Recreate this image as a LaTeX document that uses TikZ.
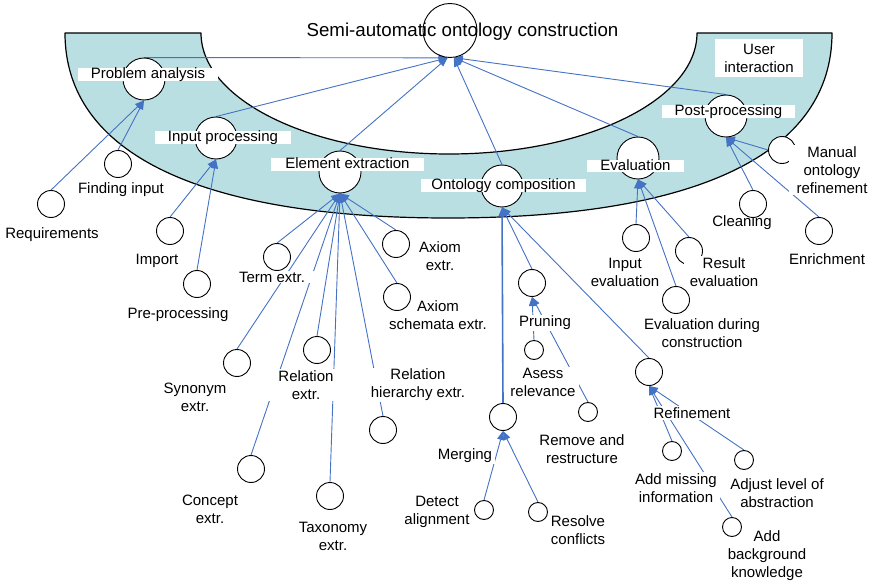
\documentclass[tikz,border=0pt]{standalone}
\usepackage{fontspec}
\setmainfont{Liberation Sans}
\usetikzlibrary{arrows.meta}

\definecolor{bandfill}{RGB}{186,223,227}
\definecolor{linkblue}{RGB}{68,114,196}

\pgfdeclarelayer{front}
\pgfsetlayers{main,front}

\begin{document}
\begin{tikzpicture}[x=1pt,y=-1pt,
  every node/.style={font=\fontsize{15}{18}\selectfont},
  goalcircle/.style={circle, draw=black, line width=0.9pt, minimum size=54pt, inner sep=0},
  stage/.style={circle, draw=black, fill=white, line width=0.9pt, minimum size=42pt, inner sep=0},
  task/.style={circle, draw=black, fill=white, line width=0.9pt, minimum size=27pt, inner sep=0},
  subtask/.style={circle, draw=black, fill=white, line width=0.9pt, minimum size=19pt, inner sep=0},
  tag/.style={fill=white, align=center, inner xsep=3pt, inner ysep=1pt},
  widetag/.style={tag, inner xsep=10pt},
  banner/.style={fill=white, inner sep=0, text height=10.7pt, text depth=1.8pt},
  flow/.style={draw=linkblue, line width=0.9pt, -{Triangle[length=9pt,width=7pt]}},
]
\useasboundingbox (0,0) rectangle (871,583);

% curved band holding the main stages
\draw[fill=bandfill, line width=1.2pt, line join=round]
  (65,33) .. controls (65,153) and (199,218) .. (448,218)
          .. controls (698,218) and (832,153) .. (832,33)
  -- (697,33) .. controls (697,100) and (586,154) .. (449,154)
              .. controls (312,154) and (201,100) .. (201,33)
  -- cycle;

\begin{pgfonlayer}{front}
% goal
\node[goalcircle] (goal) at (450,30.5) {};

% main stages
\node[stage] (pa) at (144,79) {};
\node[stage] (ip) at (216,138) {};
\node[stage] (ee) at (340,172) {};
\node[stage] (oc) at (502,186) {};
\node[stage] (ev) at (638,158) {};
\node[stage] (pp) at (726,116) {};

% tasks
\node[task] (req) at (51,204) {};
\node[task] (find) at (118,164) {};
\node[task] (imp) at (170,231) {};
\node[task] (pre) at (197,284) {};
\node[task] (term) at (277,257) {};
\node[task] (ax) at (396,244) {};
\node[task] (axs) at (397,297) {};
\node[task] (syn) at (237,363) {};
\node[task] (rel) at (317,350) {};
\node[task] (relh) at (383,430) {};
\node[task] (con) at (251,469) {};
\node[task] (tax) at (330,496) {};
\node[task] (prun) at (532,283) {};
\node[task] (merg) at (503,417) {};
\node[task] (refi) at (649,372) {};
\node[task] (inev) at (636,238) {};
\node[task] (resev) at (689,251) {};
\node[task] (durev) at (676,300) {};
\node[task] (mor) at (782,150) {};
\node[task] (clean) at (753,204) {};
\node[task] (enr) at (819,231) {};

% sub-tasks
\node[subtask] (asess) at (534,350) {};
\node[subtask] (remove) at (588,412) {};
\node[subtask] (detect) at (484,510) {};
\node[subtask] (resolve) at (538,512) {};
\node[subtask] (addmiss) at (672,451) {};
\node[subtask] (adjust) at (744,460) {};
\node[subtask] (addbg) at (732,527) {};

% stage banners
\node[banner, minimum width=140pt] (paL) at (148,74.5) {Problem analysis};
\node[banner, minimum width=136pt] (ipL) at (223,137.5) {Input processing};
\node[banner, minimum width=153pt] (eeL) at (347.5,164.5) {Element extraction};
\node[banner, minimum width=165pt] (ocL) at (503.5,185.5) {Ontology composition};
\node[banner, minimum width=97pt] (evL) at (635.5,166) {Evaluation};
\node[banner, minimum width=133pt] (ppL) at (728.5,111.5) {Post-processing};
\node[fill=white, minimum width=88pt, minimum height=38pt, inner sep=0, align=center] (uiL) at (759,58) {User\\interaction};

% labels lying over the edge of their circles
\node[tag, inner xsep=6pt] (axL) at (440,256) {Axiom\\extr.};
\node[tag, inner xsep=6pt] (resevL) at (724,272) {Result\\evaluation};
\node[tag, inner xsep=8pt] (morL) at (832,170) {Manual\\ontology\\refinement};

% goal title
\node[font=\fontsize{18.7}{22}\selectfont] (goalL) at (462.5,31.5) {Semi-automatic ontology construction};
\end{pgfonlayer}

% stages feed the goal
\draw[flow] (pa.north) -- (goal.265);
\draw[flow] (ip.north) -- (goal.265);
\draw[flow] (ee.north) -- (goal.265);
\draw[flow] (oc.north) -- (goal.278);
\draw[flow] (ev.north) -- (goal.278);
\draw[flow] (pp.north) -- (goal.278);

% problem analysis and input processing
\draw[flow] (req.north) -- (pa.south);
\draw[flow] (find.north) -- (pa.south);
\draw[flow] (imp.north) -- (ip.south);
\draw[flow] (pre.north) -- (ip.south);

% element extraction
\foreach \n in {term,ax,axs,syn,rel,relh,con,tax}
  \draw[flow] (\n.north) -- (ee.south);

% ontology composition
\draw[flow, line width=1.6pt] (merg.north) -- (oc.south);
\draw[flow] (prun.north) -- (oc.south);
\draw[flow] (refi.north) -- (oc.south);
\draw[flow] (asess.north) -- (prun.south);
\draw[flow] (remove.north) -- (prun.south);
\draw[flow] (detect.north) -- (merg.south);
\draw[flow] (resolve.north) -- (merg.south);
\draw[flow] (addmiss.north) -- (refi.south);
\draw[flow] (adjust.north) -- (refi.south);
\draw[flow] (addbg.north) -- (refi.south);

% evaluation and post-processing
\draw[flow] (inev.north) -- (ev.south);
\draw[flow] (resev.north) -- (ev.south);
\draw[flow] (durev.north) -- (ev.south);
\draw[flow] (mor.west) -- (pp.south);
\draw[flow] (clean.north) -- (pp.south);
\draw[flow] (enr.north) -- (pp.south);

% task labels, drawn over the connectors
\node[tag] (reqL) at (52,235) {Requirements};
\node[tag] (findL) at (121,190) {Finding input};
\node[tag] (impL) at (157,261) {Import};
\node[tag] (preL) at (178,315) {Pre-processing};
\node[widetag] (termL) at (272,277) {Term extr.};
\node[tag] (axsL) at (438,315) {Axiom\\schemata extr.};
\node[tag] (synL) at (195,397) {Synonym\\extr.};
\node[widetag] (relL) at (306,385) {Relation\\extr.};
\node[widetag] (relhL) at (418,385) {Relation\\hierarchy extr.};
\node[tag] (conL) at (210,509) {Concept\\extr.};
\node[tag] (taxL) at (333,536) {Taxonomy\\extr.};
\node[tag] (prunL) at (545,323) {Pruning};
\node[tag] (asessL) at (543,382) {Asess\\relevance};
\node[tag] (removeL) at (582,449) {Remove and\\restructure};
\node[tag] (mergL) at (465,456) {Merging};
\node[tag] (detectL) at (437,512) {Detect\\alignment};
\node[tag] (resolveL) at (578,530) {Resolve\\conflicts};
\node[widetag] (refiL) at (692,413) {Refinement};
\node[tag] (addmissL) at (676,488) {Add missing\\information};
\node[tag] (adjustL) at (777,493) {Adjust level of\\abstraction};
\node[tag] (addbgL) at (767,556) {Add\\background\\knowledge};
\node[tag] (inevL) at (625,272) {Input\\evaluation};
\node[tag] (durevL) at (702,333) {Evaluation during\\construction};
\node[tag] (cleanL) at (742,223) {Cleaning};
\node[tag] (enrL) at (827,259) {Enrichment};
\end{tikzpicture}
\end{document}
